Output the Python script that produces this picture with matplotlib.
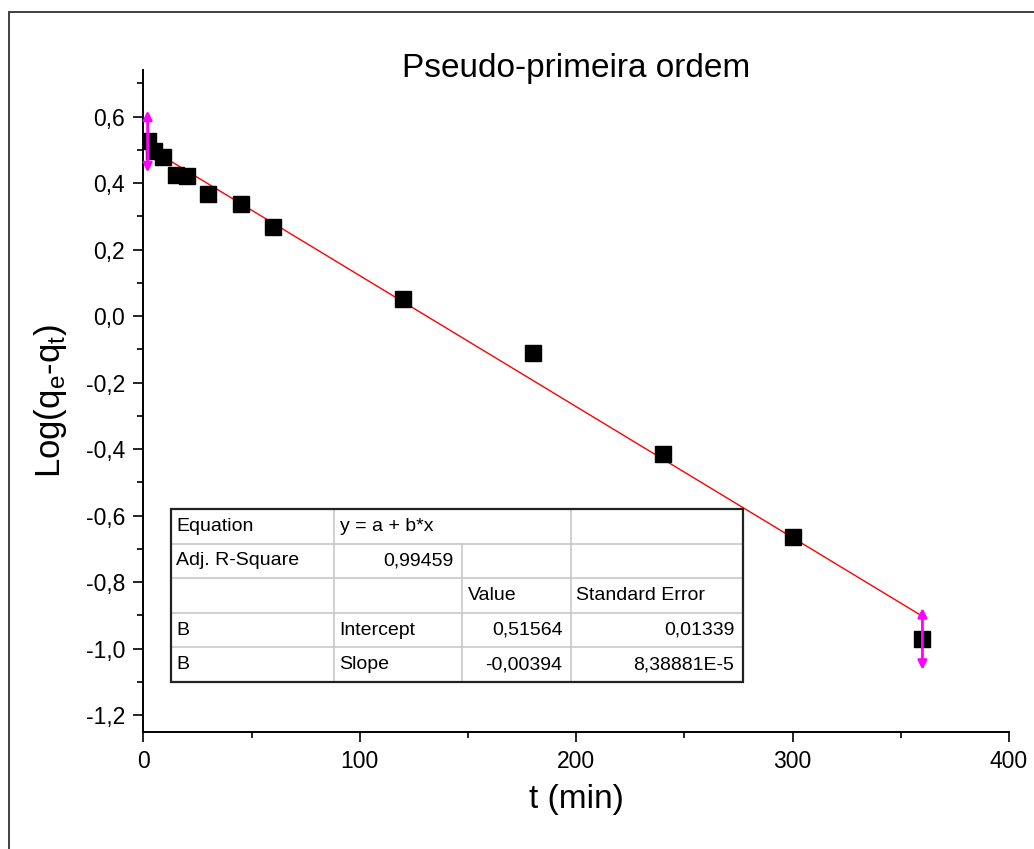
import matplotlib
matplotlib.use("Agg")
import matplotlib.pyplot as plt
from matplotlib.patches import Rectangle
from matplotlib.ticker import MultipleLocator, FuncFormatter

# dados
t = [2, 5, 9, 15, 20, 30, 45, 60, 120, 180, 240, 300, 360]
log_q = [0.525, 0.495, 0.478, 0.425, 0.422, 0.367, 0.338, 0.268,
         0.052, -0.111, -0.416, -0.664, -0.971]
intercept = 0.51564
slope = -0.00394
marker_half = 0.093  # meia altura das setas magenta

table_rows = [
    ["Equation", "y = a + b*x", "", ""],
    ["Adj. R-Square", "0,99459", "", ""],
    ["", "", "Value", "Standard Error"],
    ["B", "Intercept", "0,51564", "0,01339"],
    ["B", "Slope", "-0,00394", "8,38881E-5"],
]
right_cells = {(1, 1), (3, 2), (3, 3), (4, 2), (4, 3)}
col_widths = [163, 128, 109, 172]

plt.rcParams["font.family"] = ["Liberation Sans", "DejaVu Sans"]
plt.rcParams["mathtext.default"] = "regular"

W, H = 1034, 849
fig = plt.figure(figsize=(W / 100, H / 100), dpi=100)

# caixa externa
fig.patches.append(Rectangle((9 / W, -0.05), 1.1, 1 - 12 / H + 0.05,
                             transform=fig.transFigure, fill=False,
                             edgecolor="#333333", linewidth=1.3))

ax_l, ax_r, ax_t, ax_b = 143.3, 1009, 70, 731.7
ax = fig.add_axes([ax_l / W, 1 - ax_b / H, (ax_r - ax_l) / W, (ax_b - ax_t) / H])

# reta ajustada
x_fit = [t[0], t[-1]]
y_fit = [intercept + slope * x for x in x_fit]
ax.plot(x_fit, y_fit, color="#ff0000", lw=1.0, zorder=2)

ax.plot(t, log_q, "s", color="black", markersize=11.5, zorder=3)

# setas magenta nos extremos
for i in [0, -1]:
    ax.annotate("", xy=(t[i], log_q[i] + marker_half),
                xytext=(t[i], log_q[i] - marker_half),
                arrowprops=dict(arrowstyle="<|-|>", color="#ff00ff", lw=2.0,
                                mutation_scale=13, shrinkA=0, shrinkB=0),
                zorder=4)

ax.set_xlim(0, 400)
ax.set_ylim(-1.25, 0.74)
ax.spines["top"].set_visible(False)
ax.spines["right"].set_visible(False)
for s in ["left", "bottom"]:
    ax.spines[s].set_linewidth(1.4)

ax.xaxis.set_major_locator(MultipleLocator(100))
ax.xaxis.set_minor_locator(MultipleLocator(50))
ax.yaxis.set_major_locator(MultipleLocator(0.2))
ax.yaxis.set_minor_locator(MultipleLocator(0.1))
ax.xaxis.set_major_formatter(FuncFormatter(lambda v, p: "%d" % v))
ax.yaxis.set_major_formatter(FuncFormatter(lambda v, p: ("%.1f" % v).replace(".", ",").replace("-0,0", "0,0")))
ax.tick_params(which="major", direction="out", length=7, width=1.2, labelsize=16.5, pad=6)
ax.tick_params(which="minor", direction="out", length=4, width=1.2)

ax.set_xlabel("t (min)", fontsize=24, labelpad=8)
ax.set_ylabel("Log(q$_e$-q$_t$)", fontsize=25, labelpad=12)
fig.text(576 / W, 1 - 68 / H, "Pseudo-primeira ordem", fontsize=24,
         ha="center", va="center")

# tabela do ajuste (coordenadas em pixels da figura)
tx0, ty0, row_h = 170.5, 509, 34.6
col_x = [tx0]
for w in col_widths:
    col_x.append(col_x[-1] + w)
n_rows = len(table_rows)

def fx(px):
    return px / W

def fy(py):
    return 1 - py / H

grid = dict(color="#c8c8c8", lw=1.2, transform=fig.transFigure, zorder=5)
for r in range(1, n_rows):
    y = ty0 + r * row_h
    fig.add_artist(plt.Line2D([fx(col_x[0]), fx(col_x[-1])], [fy(y), fy(y)], **grid))
for c in range(1, len(col_widths)):
    top = ty0 + row_h if c == 2 else ty0
    fig.add_artist(plt.Line2D([fx(col_x[c]), fx(col_x[c])],
                              [fy(top), fy(ty0 + n_rows * row_h)], **grid))
fig.patches.append(Rectangle((fx(col_x[0]), fy(ty0 + n_rows * row_h)),
                             (col_x[-1] - col_x[0]) / W, n_rows * row_h / H,
                             transform=fig.transFigure, fill=False,
                             edgecolor="#222222", linewidth=1.6, zorder=6))

for r, row in enumerate(table_rows):
    yc = ty0 + (r + 0.5) * row_h
    for c, txt in enumerate(row):
        if not txt:
            continue
        if (r, c) in right_cells:
            fig.text(fx(col_x[c + 1] - 8), fy(yc), txt, ha="right", va="center", fontsize=14)
        else:
            fig.text(fx(col_x[c] + 6), fy(yc), txt, ha="left", va="center", fontsize=14)

fig.savefig("out.png", dpi=100)
